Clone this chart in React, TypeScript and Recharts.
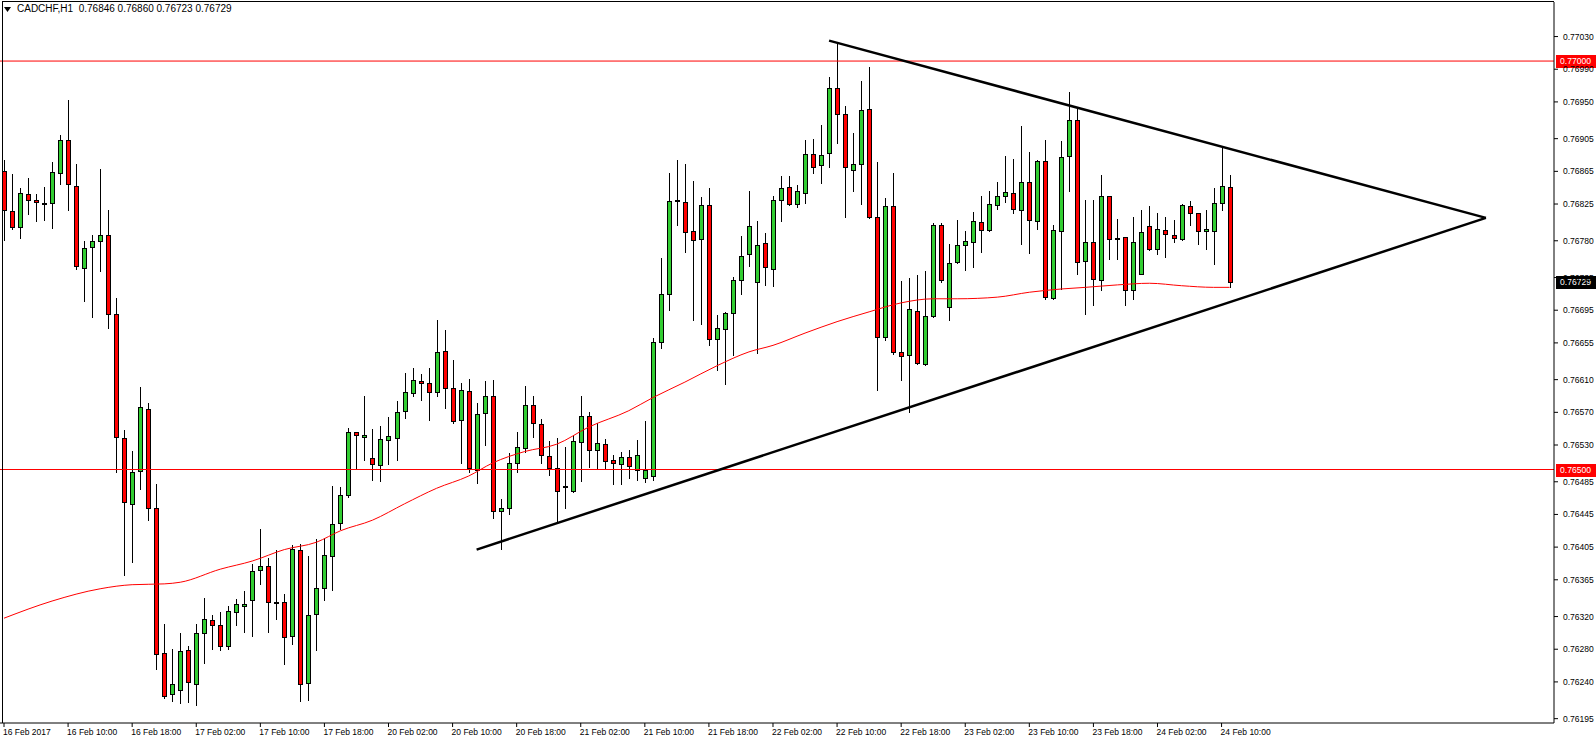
import React from 'react';
import { ComposedChart, Bar, Line, XAxis, YAxis, ReferenceLine } from 'recharts';

// ---- OHLC values (CADCHF H1), one entry per bar ----
const opens = [
  0.76865, 0.76816, 0.76797, 0.76837, 0.76830, 0.76825, 0.76826, 0.76863, 0.76903, 0.76847,
  0.76747, 0.76772, 0.76780, 0.76787, 0.76690, 0.76539, 0.76458, 0.76498, 0.76574, 0.76453,
  0.76275, 0.76225, 0.76230, 0.76279, 0.76238, 0.76300, 0.76316, 0.76310, 0.76284, 0.76326,
  0.76333, 0.76340, 0.76377, 0.76382, 0.76337, 0.76338, 0.76296, 0.76402, 0.76239, 0.76323,
  0.76355, 0.76394, 0.76435, 0.76469, 0.76546, 0.76540, 0.76514, 0.76506, 0.76536, 0.76539,
  0.76572, 0.76594, 0.76608, 0.76606, 0.76595, 0.76645, 0.76600, 0.76561, 0.76596, 0.76499,
  0.76569, 0.76590, 0.76449, 0.76453, 0.76508, 0.76526, 0.76579, 0.76556, 0.76517, 0.76502,
  0.76479, 0.76474, 0.76534, 0.76566, 0.76524, 0.76531, 0.76512, 0.76507, 0.76515, 0.76499,
  0.76490, 0.76492, 0.76656, 0.76715, 0.76829, 0.76827, 0.76792, 0.76782, 0.76824, 0.76660,
  0.76672, 0.76692, 0.76732, 0.76764, 0.76730, 0.76777, 0.76745, 0.76830, 0.76846, 0.76825,
  0.76838, 0.76886, 0.76873, 0.76887, 0.76967, 0.76935, 0.76867, 0.76874, 0.76941, 0.76809,
  0.76662, 0.76823, 0.76644, 0.76640, 0.76694, 0.76629, 0.76688, 0.76799, 0.76699, 0.76754,
  0.76775, 0.76779, 0.76803, 0.76793, 0.76824, 0.76835, 0.76838, 0.76818, 0.76852, 0.76804,
  0.76878, 0.76710, 0.76792, 0.76884, 0.76928, 0.76755, 0.76779, 0.76732, 0.76835, 0.76782,
  0.76785, 0.76720, 0.76739, 0.76798, 0.76770, 0.76793, 0.76787, 0.76782, 0.76823, 0.76814,
  0.76792, 0.76792, 0.76826, 0.76846,
];
const highs = [
  0.76879, 0.76862, 0.76845, 0.76857, 0.76837, 0.76846, 0.76876, 0.76910, 0.76952, 0.76874,
  0.76780, 0.76787, 0.76868, 0.76818, 0.76710, 0.76548, 0.76523, 0.76601, 0.76581, 0.76482,
  0.76311, 0.76280, 0.76300, 0.76284, 0.76311, 0.76343, 0.76322, 0.76326, 0.76333, 0.76342,
  0.76351, 0.76384, 0.76427, 0.76392, 0.76402, 0.76348, 0.76408, 0.76409, 0.76394, 0.76415,
  0.76416, 0.76480, 0.76479, 0.76551, 0.76546, 0.76590, 0.76550, 0.76553, 0.76564, 0.76584,
  0.76618, 0.76624, 0.76617, 0.76624, 0.76683, 0.76671, 0.76634, 0.76606, 0.76611, 0.76581,
  0.76608, 0.76610, 0.76464, 0.76520, 0.76546, 0.76602, 0.76590, 0.76562, 0.76535, 0.76539,
  0.76528, 0.76542, 0.76590, 0.76570, 0.76557, 0.76537, 0.76518, 0.76521, 0.76524, 0.76536,
  0.76559, 0.76661, 0.76759, 0.76863, 0.76879, 0.76874, 0.76853, 0.76834, 0.76845, 0.76689,
  0.76693, 0.76736, 0.76786, 0.76841, 0.76804, 0.76790, 0.76835, 0.76859, 0.76859, 0.76848,
  0.76903, 0.76905, 0.76922, 0.76980, 0.77022, 0.76945, 0.76912, 0.76976, 0.76993, 0.76876,
  0.76832, 0.76863, 0.76731, 0.76734, 0.76738, 0.76743, 0.76802, 0.76802, 0.76776, 0.76805,
  0.76792, 0.76815, 0.76835, 0.76841, 0.76852, 0.76884, 0.76880, 0.76920, 0.76889, 0.76879,
  0.76903, 0.76799, 0.76902, 0.76962, 0.76943, 0.76830, 0.76830, 0.76860, 0.76835, 0.76807,
  0.76785, 0.76809, 0.76818, 0.76823, 0.76814, 0.76809, 0.76805, 0.76825, 0.76829, 0.76814,
  0.76818, 0.76845, 0.76894, 0.76860,
];
const lows = [
  0.76781, 0.76794, 0.76783, 0.76813, 0.76804, 0.76805, 0.76796, 0.76850, 0.76818, 0.76745,
  0.76706, 0.76687, 0.76743, 0.76673, 0.76497, 0.76371, 0.76387, 0.76476, 0.76438, 0.76256,
  0.76220, 0.76217, 0.76214, 0.76215, 0.76212, 0.76263, 0.76280, 0.76279, 0.76280, 0.76310,
  0.76301, 0.76296, 0.76360, 0.76301, 0.76317, 0.76262, 0.76286, 0.76217, 0.76218, 0.76279,
  0.76340, 0.76353, 0.76427, 0.76466, 0.76501, 0.76512, 0.76487, 0.76486, 0.76507, 0.76512,
  0.76563, 0.76590, 0.76585, 0.76561, 0.76590, 0.76575, 0.76557, 0.76508, 0.76497, 0.76483,
  0.76530, 0.76441, 0.76403, 0.76446, 0.76497, 0.76521, 0.76540, 0.76508, 0.76493, 0.76435,
  0.76453, 0.76472, 0.76486, 0.76503, 0.76502, 0.76502, 0.76482, 0.76482, 0.76490, 0.76487,
  0.76485, 0.76487, 0.76649, 0.76695, 0.76799, 0.76766, 0.76683, 0.76678, 0.76652, 0.76622,
  0.76605, 0.76640, 0.76715, 0.76749, 0.76643, 0.76726, 0.76725, 0.76804, 0.76824, 0.76821,
  0.76826, 0.76863, 0.76851, 0.76870, 0.76900, 0.76809, 0.76841, 0.76825, 0.76808, 0.76597,
  0.76659, 0.76641, 0.76610, 0.76570, 0.76629, 0.76628, 0.76687, 0.76730, 0.76683, 0.76753,
  0.76744, 0.76748, 0.76766, 0.76792, 0.76819, 0.76827, 0.76814, 0.76776, 0.76765, 0.76794,
  0.76709, 0.76709, 0.76721, 0.76841, 0.76739, 0.76690, 0.76701, 0.76720, 0.76758, 0.76758,
  0.76701, 0.76709, 0.76739, 0.76769, 0.76764, 0.76760, 0.76779, 0.76781, 0.76799, 0.76776,
  0.76770, 0.76752, 0.76818, 0.76723,
];
const closes = [
  0.76818, 0.76797, 0.76838, 0.76830, 0.76827, 0.76825, 0.76864, 0.76903, 0.76850, 0.76749,
  0.76771, 0.76780, 0.76787, 0.76690, 0.76540, 0.76460, 0.76497, 0.76577, 0.76453, 0.76274,
  0.76223, 0.76238, 0.76278, 0.76240, 0.76300, 0.76317, 0.76310, 0.76284, 0.76327, 0.76335,
  0.76335, 0.76376, 0.76382, 0.76338, 0.76337, 0.76295, 0.76403, 0.76238, 0.76322, 0.76355,
  0.76395, 0.76433, 0.76469, 0.76546, 0.76542, 0.76542, 0.76507, 0.76537, 0.76541, 0.76570,
  0.76595, 0.76610, 0.76606, 0.76595, 0.76644, 0.76600, 0.76559, 0.76597, 0.76502, 0.76568,
  0.76590, 0.76449, 0.76453, 0.76508, 0.76528, 0.76579, 0.76557, 0.76518, 0.76502, 0.76474,
  0.76479, 0.76535, 0.76566, 0.76524, 0.76532, 0.76510, 0.76508, 0.76515, 0.76504, 0.76518,
  0.76499, 0.76656, 0.76715, 0.76829, 0.76829, 0.76791, 0.76781, 0.76824, 0.76660, 0.76673,
  0.76692, 0.76732, 0.76761, 0.76798, 0.76775, 0.76748, 0.76830, 0.76845, 0.76825, 0.76841,
  0.76886, 0.76870, 0.76885, 0.76967, 0.76935, 0.76870, 0.76874, 0.76940, 0.76809, 0.76662,
  0.76823, 0.76644, 0.76639, 0.76697, 0.76630, 0.76688, 0.76799, 0.76732, 0.76753, 0.76775,
  0.76780, 0.76804, 0.76793, 0.76825, 0.76835, 0.76840, 0.76819, 0.76852, 0.76805, 0.76878,
  0.76711, 0.76793, 0.76883, 0.76928, 0.76754, 0.76779, 0.76733, 0.76835, 0.76782, 0.76782,
  0.76720, 0.76779, 0.76791, 0.76770, 0.76794, 0.76788, 0.76783, 0.76824, 0.76814, 0.76792,
  0.76794, 0.76826, 0.76847, 0.76729,
];

// ---- moving average (red curve), read at selected bars ----
const maBars = [0, 6, 12, 16, 20, 22, 27, 31, 35, 39, 42, 46, 50, 54, 58, 61, 65, 69, 73, 78,
  81, 85, 89, 93, 96, 100, 104, 108, 112, 116, 119, 124, 128, 132, 135, 139, 143, 147, 151, 153];
const maValues = [0.76318, 0.76339, 0.76354, 0.76359, 0.76360, 0.76362, 0.76378, 0.76388, 0.76402, 0.76411,
  0.76425, 0.76438, 0.76458, 0.76477, 0.76492, 0.76508, 0.76522, 0.76531, 0.76552, 0.76572,
  0.76588, 0.76607, 0.76627, 0.76644, 0.76652, 0.76667, 0.76681, 0.76693, 0.76704, 0.76709,
  0.76709, 0.76711, 0.76717, 0.76721, 0.76723, 0.76726, 0.76728, 0.76725, 0.76723, 0.76723];

// ---- time labels (one every 8 bars) ----
const timeLabels = ['16 Feb 2017', '16 Feb 10:00', '16 Feb 18:00', '17 Feb 02:00', '17 Feb 10:00',
  '17 Feb 18:00', '20 Feb 02:00', '20 Feb 10:00', '20 Feb 18:00', '21 Feb 02:00', '21 Feb 10:00',
  '21 Feb 18:00', '22 Feb 02:00', '22 Feb 10:00', '22 Feb 18:00', '23 Feb 02:00', '23 Feb 10:00',
  '23 Feb 18:00', '24 Feb 02:00', '24 Feb 10:00'];
const labelEvery = 8;
const totalSlots = 194; // bars + empty chart shift on the right

// ---- price axis ----
const priceTicks = [0.77030, 0.76990, 0.76950, 0.76905, 0.76865, 0.76825, 0.76780, 0.76735, 0.76695,
  0.76655, 0.76610, 0.76570, 0.76530, 0.76485, 0.76445, 0.76405, 0.76365, 0.76320, 0.76280, 0.76240, 0.76195];
const priceMin = 0.761897;
const priceMax = 0.770723;

// ---- horizontal levels, trend lines, last price ----
const levels = [0.77, 0.765];
const lastPrice = 0.76729;
const upperTrend = [{ bar: 103, price: 0.77025 }, { bar: 185, price: 0.76808 }];
const lowerTrend = [{ bar: 59, price: 0.76402 }, { bar: 185, price: 0.76808 }];
const title = 'CADCHF,H1  0.76846 0.76860 0.76723 0.76729';

const FONT = '"Liberation Sans", Arial, sans-serif';

const data = Array.from({ length: totalSlots }, (_, i) => {
  const has = i < opens.length;
  const k = maBars.indexOf(i);
  return {
    i,
    o: has ? opens[i] : null,
    h: has ? highs[i] : null,
    l: has ? lows[i] : null,
    c: has ? closes[i] : null,
    range: has ? [lows[i], highs[i]] : null,
    ma: k >= 0 ? maValues[k] : null,
  };
});

const tickIdx = timeLabels.map((_, k) => k * labelEvery);

const Candle = (props: any) => {
  const { x, y, width, height, payload } = props;
  if (!payload || payload.h == null) return null;
  const { o, h, l, c } = payload;
  const top = Math.min(y, y + height);
  const bot = Math.max(y, y + height);
  const span = h - l;
  const py = (p: number) => (span > 0 ? top + ((h - p) / span) * (bot - top) : top);
  const col = Math.floor(x + width / 2);
  const cx = col + 0.5;
  const wTop = Math.round(py(h));
  const wBot = Math.round(py(l)) + 1;
  const bTop = Math.round(py(Math.max(o, c)));
  const bBot = Math.round(py(Math.min(o, c)));
  const up = c > o;
  const dn = c < o;
  return (
    <g>
      <line x1={cx} x2={cx} y1={wTop} y2={wBot} stroke="#000" strokeWidth={1} />
      {up || dn ? (
        <rect
          x={col - 1.5}
          y={bTop + 0.5}
          width={4}
          height={Math.max(bBot - bTop, 1)}
          fill={up ? '#32CD32' : '#FF0000'}
          stroke="#000"
          strokeWidth={1}
        />
      ) : (
        <rect x={col - 2} y={bTop - 1} width={5} height={2} fill="#000" />
      )}
    </g>
  );
};

const PriceTag = (props: any) => {
  const { viewBox, text, bg } = props;
  if (!viewBox) return null;
  const x = viewBox.x + viewBox.width;
  const y = Math.round(viewBox.y);
  return (
    <g>
      <rect x={x + 2} y={y - 6} width={42} height={13} fill={bg} />
      <text x={x + 6} y={y} dy="0.36em" fill="#fff" fontSize={8.6} fontFamily={FONT}>
        {text}
      </text>
    </g>
  );
};

const XTick = (props: any) => {
  const { x, y, payload } = props;
  const k = tickIdx.indexOf(payload.value);
  return (
    <text x={x - 1} y={y} dy="0.71em" textAnchor="start" fill="#000" fontSize={8.5} fontFamily={FONT}>
      {k >= 0 ? timeLabels[k] : ''}
    </text>
  );
};

export default function App() {
  return (
    <div style={{ position: 'absolute', left: 0, top: 0, width: 1596, height: 744, background: '#fff' }}>
      <ComposedChart
        width={1596}
        height={744}
        data={data}
        margin={{ top: 2, right: 0, bottom: 0, left: 0 }}
      >
        <XAxis
          dataKey="i"
          type="category"
          ticks={tickIdx}
          interval={0}
          height={21}
          tickSize={4}
          tickMargin={2}
          axisLine={{ stroke: '#000' }}
          tickLine={{ stroke: '#000' }}
          tick={<XTick />}
        />
        <YAxis
          orientation="right"
          width={42}
          domain={[priceMin, priceMax]}
          allowDataOverflow
          ticks={priceTicks}
          interval={0}
          tickSize={4}
          tickMargin={5}
          axisLine={{ stroke: '#000' }}
          tickLine={{ stroke: '#000' }}
          tick={{ fill: '#000', fontSize: 8.5, fontFamily: FONT }}
          tickFormatter={(v: number) => v.toFixed(5)}
        />
        {levels.map((lv) => (
          <ReferenceLine key={lv} y={lv} stroke="#FF0000" strokeWidth={1} />
        ))}
        <Line
          dataKey="ma"
          type="monotone"
          stroke="#FF0000"
          strokeWidth={1}
          dot={false}
          connectNulls
          isAnimationActive={false}
        />
        <Bar dataKey="range" barSize={5} isAnimationActive={false} shape={(p: any) => <Candle {...p} />} />
        <ReferenceLine
          segment={upperTrend.map((d) => ({ x: d.bar, y: d.price }))}
          stroke="#000"
          strokeWidth={2.5}
        />
        <ReferenceLine
          segment={lowerTrend.map((d) => ({ x: d.bar, y: d.price }))}
          stroke="#000"
          strokeWidth={2.5}
        />
        {levels.map((lv) => (
          <ReferenceLine
            key={'tag' + lv}
            y={lv}
            stroke="none"
            label={<PriceTag text={lv.toFixed(5)} bg="#FF0000" />}
          />
        ))}
        <ReferenceLine y={lastPrice} stroke="none" label={<PriceTag text={lastPrice.toFixed(5)} bg="#000" />} />
      </ComposedChart>
      <div
        style={{
          position: 'absolute',
          left: 2,
          top: 1,
          width: 1552,
          height: 722,
          borderTop: '1px solid #000',
          borderLeft: '1px solid #000',
          boxSizing: 'border-box',
          pointerEvents: 'none',
        }}
      />
      <div
        style={{
          position: 'absolute',
          left: 4,
          top: 3,
          fontFamily: FONT,
          fontSize: 10,
          lineHeight: '12px',
          whiteSpace: 'pre',
          color: '#000',
          display: 'flex',
          alignItems: 'center',
        }}
      >
        <svg width={7} height={5} style={{ marginRight: 6 }}>
          <polygon points="0,0 7,0 3.5,5" fill="#000" />
        </svg>
        <span>{title}</span>
      </div>
    </div>
  );
}
